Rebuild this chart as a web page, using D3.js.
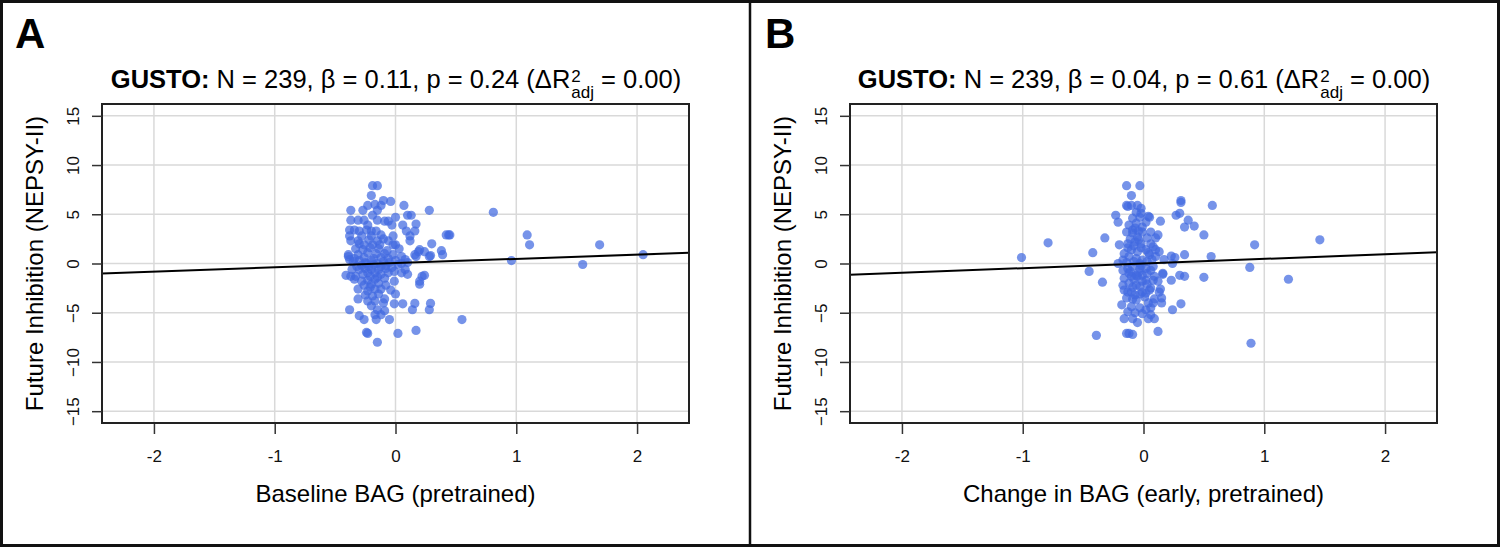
<!DOCTYPE html>
<html>
<head>
<meta charset="utf-8">
<script src="https://cdn.jsdelivr.net/npm/d3@7"></script>
<style>
  body { margin: 0; background: #fff; }
  svg { display: block; font-family: "Liberation Sans", Arial, Helvetica, sans-serif; }
  text { white-space: pre; }
</style>
</head>
<body>
<script>
// axis ticks
var xTicks = [-2, -1, 0, 1, 2];
var yTicks = [-15, -10, -5, 0, 5, 10, 15];

// panel A: baseline BAG vs future inhibition
var pointsA = [
  [-0.19,7.9],[-0.15,7.9],[-0.2,6.9],[-0.1,6.4],[-0.04,6.3],[0.07,5.9],[0.28,5.4],
  [-0.23,5.9],[-0.17,6.0],[-0.12,5.9],[-0.37,5.4],[-0.27,5.4],[-0.15,5.4],[-0.19,4.9],
  [0.0,4.7],[0.1,4.9],[0.13,4.9],[-0.37,4.4],[-0.31,4.4],[-0.26,4.4],[-0.15,4.4],[-0.09,4.3],[-0.06,4.3],
  [-0.23,3.9],[0.06,3.9],[0.17,4.0],[-0.03,3.9],
  [-0.38,3.4],[-0.34,3.4],[-0.3,3.3],[-0.24,3.4],[-0.2,3.3],[-0.16,3.3],[0.09,3.3],[0.16,3.3],
  [-0.02,2.8],[-0.38,2.8],[-0.28,2.8],[-0.2,2.8],[-0.12,2.9],[0.12,2.8],[0.42,2.9],[0.44,2.9],
  [-0.37,2.3],[-0.31,2.3],[-0.15,2.3],[-0.06,2.3],[0.12,2.3],[0.3,2.0],
  [-0.26,1.9],[-0.19,1.9],[-0.13,1.9],[-0.02,1.9],[0.0,1.9],
  [-0.39,0.9],[-0.31,0.9],[-0.23,1.1],[-0.16,1.0],[-0.09,1.0],[-0.02,0.9],[0.05,0.7],[0.16,0.9],
  [0.19,1.2],[0.24,1.2],[0.29,0.8],[0.38,1.3],[0.39,0.9],[0.2,1.4],[0.28,0.7],[0.17,0.7],[-0.39,0.7],[-0.38,0.4],
  [-0.35,0.2],[-0.3,0.3],[-0.25,0.1],[-0.2,0.3],[-0.15,0.0],[-0.1,0.2],[-0.05,0.1],[0.0,0.3],[0.05,0.0],
  [-0.28,-0.2],[-0.22,-0.3],[-0.18,-0.1],[-0.12,-0.3],[-0.08,-0.2],[0.02,-0.1],[0.1,0.1],
  [-0.33,1.5],[-0.27,1.4],[-0.21,1.6],[-0.14,1.5],[-0.07,1.3],[0.03,1.5],[-0.3,2.0],[-0.22,2.4],[-0.1,2.5],
  [-0.34,0.5],[-0.26,0.6],[-0.18,0.5],[-0.12,0.6],[-0.06,0.5],[0.08,0.4],[-0.32,-0.3],[-0.24,0.0],
  [-0.36,-0.6],[-0.41,-1.2],[-0.37,-1.3],[-0.33,-1.3],[-0.27,-1.1],[-0.23,-0.95],[-0.17,-0.95],[-0.12,-1.1],
  [-0.06,-0.95],[-0.01,-0.8],[0.05,-0.95],[0.1,-1.1],[0.24,-1.2],[0.22,-1.3],
  [-0.3,-0.6],[-0.25,-0.5],[-0.2,-0.6],[-0.14,-0.6],[-0.08,-0.5],[-0.03,-0.4],[0.08,-0.6],
  [0.2,-1.8],[0.2,-2.1],[-0.34,-1.6],[-0.28,-1.8],[-0.23,-1.7],[-0.17,-1.6],[-0.01,-1.8],
  [-0.26,-2.2],[-0.2,-2.1],[-0.14,-2.0],[-0.08,-2.2],[-0.21,-1.3],[-0.15,-1.4],[-0.09,-1.5],
  [-0.31,-2.6],[-0.23,-2.8],[-0.17,-2.6],[-0.12,-2.6],[-0.04,-2.7],[0.0,-3.1],
  [-0.25,-3.2],[-0.19,-3.3],[-0.14,-3.1],[-0.21,-2.4],
  [-0.31,-3.6],[-0.23,-3.8],[-0.17,-3.8],[-0.09,-3.6],[-0.1,-4.0],
  [-0.01,-4.1],[0.06,-4.1],[0.16,-4.05],[0.29,-4.05],[0.14,-4.7],[0.28,-4.7],
  [-0.38,-4.7],[-0.2,-4.3],[-0.15,-4.7],[-0.09,-4.8],
  [-0.3,-5.3],[-0.26,-5.7],[-0.16,-5.7],[-0.05,-5.7],[-0.17,-5.2],[-0.12,-5.2],[0.55,-5.7],
  [-0.24,-7.0],[-0.23,-7.1],[0.02,-7.1],[0.17,-6.8],[-0.15,-8.0],
  [0.81,5.2],[0.45,2.9],[1.09,2.9],[1.11,1.9],[0.96,0.3],[1.55,-0.1],[1.69,1.9],[2.05,0.9]
];

// panel B: change in BAG vs future inhibition
var pointsB = [
  [-0.14,7.9],[-0.03,7.9],[-0.1,6.9],[-0.14,5.9],[-0.1,5.9],[-0.05,5.9],[-0.13,5.8],[-0.02,5.6],
  [0.31,6.2],[0.31,6.4],[0.57,5.9],
  [-0.23,4.9],[-0.21,4.2],[0.27,4.9],[0.3,5.1],[0.37,4.4],[0.34,3.7],[0.42,3.8],[0.5,2.9],[0.14,4.3],[0.05,4.7],
  [-0.09,4.6],[-0.03,4.7],[0.04,4.8],[-0.06,5.2],[-0.02,5.1],
  [-0.12,3.9],[-0.06,4.1],[-0.01,3.7],[-0.07,3.6],[0.02,4.2],
  [-0.14,3.2],[-0.09,3.1],[-0.05,2.7],[-0.01,3.2],[0.06,3.2],[0.12,2.9],
  [-0.2,1.9],[-0.13,2.0],[-0.07,2.2],[-0.02,2.0],[0.06,2.0],[0.1,2.6],
  [-0.11,2.5],[-0.04,2.4],[0.03,2.6],[-0.09,3.4],[-0.04,3.3],
  [-0.16,1.0],[-0.1,1.4],[-0.05,1.2],[0.02,1.4],[0.08,1.7],[0.1,1.4],
  [-0.13,1.6],[-0.08,1.8],[-0.02,1.6],[0.04,1.1],
  [-0.17,0.35],[-0.12,0.7],[-0.06,0.5],[-0.01,0.35],[0.05,0.9],[0.1,0.7],[0.13,1.2],
  [-0.14,0.1],[-0.08,0.2],[-0.03,0.0],[0.03,0.2],[0.07,0.4],
  [-0.21,0.0],[-0.17,-0.7],[-0.13,-0.5],[-0.09,-0.3],[-0.03,-0.5],[0.02,-0.5],[0.08,-0.3],
  [-0.16,-1.5],[-0.1,-1.3],[-0.05,-1.3],[0.02,-1.7],[-0.12,-1.0],[-0.06,-1.2],[-0.01,-1.2],
  [0.06,-0.7],[0.09,-1.3],[0.16,-1.0],
  [-0.11,-0.8],[-0.04,-0.9],[0.03,-1.0],[-0.08,-1.6],[-0.02,-0.2],
  [-0.17,-2.2],[-0.12,-2.0],[-0.06,-2.2],[-0.01,-1.8],[0.08,-1.7],[0.12,-1.8],
  [-0.09,-2.4],[-0.03,-2.3],[0.03,-2.1],
  [-0.16,-2.7],[-0.13,-2.9],[-0.1,-2.9],[-0.01,-2.9],[0.06,-2.5],
  [-0.07,-3.2],[-0.03,-3.1],[0.02,-3.0],
  [-0.14,-3.5],[-0.09,-3.6],[-0.06,-3.7],[0.01,-3.4],[0.05,-2.7],
  [0.15,-3.5],[0.15,-4.0],[0.13,-2.9],[0.14,-2.6],[0.09,-3.6],
  [-0.18,-4.2],[-0.1,-4.4],[-0.03,-4.5],[0.02,-4.7],[0.06,-4.5],[0.08,-4.0],[0.04,-4.0],
  [-0.13,-4.9],[-0.07,-5.0],[-0.01,-5.1],
  [-0.05,-6.0],[-0.16,-5.6],[-0.09,-5.6],[0.04,-5.6],[0.09,-5.6],[0.06,-5.2],
  [-0.14,-7.1],[-0.12,-7.1],[-0.09,-7.2],[0.12,-6.9],
  [0.24,-4.7],[0.31,-4.1],
  [0.16,-1.1],[0.23,-1.7],[0.3,-1.2],[0.34,-1.3],
  [0.23,0.76],[0.26,0.6],[0.24,0.0],[0.17,0.4],[0.34,0.9],[0.56,0.7],[0.5,-1.4],
  [-1.01,0.6],[-0.79,2.1],[-0.42,1.1],[-0.45,-0.8],[-0.34,-1.9],[-0.32,2.6],[-0.39,-7.3],
  [0.92,1.9],[1.46,2.4],[0.88,-0.4],[1.2,-1.6],[0.89,-8.1]
];

// fitted lines: [intercept, slope]
var fitA = [0.04, 0.43];
var fitB = [0.0, 0.47];

var panelLetters = ['A', 'B'];
var titleStats = ['N = 239, \u03b2 = 0.11, p = 0.24 (\u0394R', 'N = 239, \u03b2 = 0.04, p = 0.61 (\u0394R'];
var xLabels = ['Baseline BAG (pretrained)', 'Change in BAG (early, pretrained)'];
var yLabel = 'Future Inhibition (NEPSY-II)';

var W = 1500, H = 547;
var svg = d3.select('body').append('svg')
    .attr('width', W)
    .attr('height', H);

svg.append('rect')
    .attr('width', W).attr('height', H)
    .attr('fill', '#fff');

var panels = [
  { pts: pointsA, fit: fitA, off: 0 },
  { pts: pointsB, fit: fitB, off: 748 }
];

panels.forEach(function (p, i) {
  var left = 102 + p.off, right = 689 + p.off, top = 104, bottom = 423;
  var x = d3.scaleLinear().domain([-2.43, 2.43]).range([left, right]);
  var y = d3.scaleLinear().domain([-16.2, 16.2]).range([bottom, top]);
  var g = svg.append('g');

  // panel letter
  g.append('text')
      .attr('x', 15 + p.off + (i ? 2 : 0))
      .attr('y', 48)
      .attr('font-size', 42)
      .attr('font-weight', 'bold')
      .text(panelLetters[i]);

  // grid
  g.selectAll('.gx').data(xTicks).enter().append('line')
      .attr('x1', function (d) { return x(d); })
      .attr('x2', function (d) { return x(d); })
      .attr('y1', top).attr('y2', bottom)
      .attr('stroke', '#d9d9d9').attr('stroke-width', 1.5);
  g.selectAll('.gy').data(yTicks).enter().append('line')
      .attr('y1', function (d) { return y(d); })
      .attr('y2', function (d) { return y(d); })
      .attr('x1', left).attr('x2', right)
      .attr('stroke', '#d9d9d9').attr('stroke-width', 1.5);

  // points
  g.append('g').selectAll('circle').data(p.pts).enter().append('circle')
      .attr('cx', function (d) { return x(d[0]); })
      .attr('cy', function (d) { return y(d[1]); })
      .attr('r', 4.6)
      .attr('fill', '#4169e1')
      .attr('fill-opacity', 0.72);

  // regression line
  var xd = x.domain();
  g.append('line')
      .attr('x1', x(xd[0])).attr('y1', y(p.fit[0] + p.fit[1] * xd[0]))
      .attr('x2', x(xd[1])).attr('y2', y(p.fit[0] + p.fit[1] * xd[1]))
      .attr('stroke', '#000').attr('stroke-width', 2);

  // box
  g.append('rect')
      .attr('x', left).attr('y', top)
      .attr('width', right - left).attr('height', bottom - top)
      .attr('fill', 'none').attr('stroke', '#222').attr('stroke-width', 2);

  // x axis
  var ax = g.append('g')
      .attr('transform', 'translate(0,' + (bottom + 1) + ')')
      .call(d3.axisBottom(x).tickValues(xTicks).tickSize(10).tickPadding(16)
        .tickFormat(function (d) { return d; }));
  ax.select('.domain').remove();
  ax.selectAll('line').attr('stroke', '#333').attr('stroke-width', 1.5);
  ax.selectAll('text').attr('font-size', 17).attr('fill', '#111')
      .attr('font-family', '"Liberation Sans", Arial, sans-serif');

  // y axis, labels turned like R's default
  var ay = g.append('g')
      .attr('transform', 'translate(' + left + ',0)')
      .call(d3.axisLeft(y).tickValues(yTicks).tickSize(10));
  ay.select('.domain').remove();
  ay.selectAll('line').attr('stroke', '#333').attr('stroke-width', 1.5);
  ay.selectAll('text')
      .attr('x', 0).attr('dy', 0)
      .attr('transform', 'translate(-23,0) rotate(-90)')
      .style('text-anchor', 'middle')
      .attr('font-size', 17).attr('fill', '#111')
      .attr('font-family', '"Liberation Sans", Arial, sans-serif');

  // axis titles
  g.append('text')
      .attr('x', (left + right) / 2).attr('y', 502)
      .attr('text-anchor', 'middle')
      .attr('font-size', 24)
      .text(xLabels[i]);
  g.append('text')
      .attr('transform', 'translate(' + (43 + p.off) + ',' + ((top + bottom) / 2) + ') rotate(-90)')
      .attr('text-anchor', 'middle')
      .attr('font-size', 24)
      .text(yLabel);

  // title; the 2 and "adj" sit stacked after R, as in plotmath
  var cx = (left + right) / 2;
  var t = g.append('text')
      .attr('x', cx).attr('y', 88)
      .attr('font-size', 25.5);
  t.append('tspan').attr('font-weight', 'bold').text('GUSTO:');
  t.append('tspan').text(' ' + titleStats[i]);
  var sup = g.append('text').attr('y', 82).attr('font-size', 17).text('2');
  var sub = g.append('text').attr('y', 98).attr('font-size', 17).text('adj');
  var tail = g.append('text').attr('y', 88).attr('font-size', 25.5).text(' = 0.00)');
  var w1 = t.node().getComputedTextLength();
  var w2 = Math.max(sup.node().getComputedTextLength(), sub.node().getComputedTextLength());
  var w3 = tail.node().getComputedTextLength();
  var x0 = cx - (w1 + w2 + w3) / 2;
  t.attr('x', x0);
  sup.attr('x', x0 + w1 + 1);
  sub.attr('x', x0 + w1 + 1);
  tail.attr('x', x0 + w1 + w2 + 1);
});

// outer frame and divider
svg.append('rect')
    .attr('x', 1.5).attr('y', 1.5)
    .attr('width', W - 3).attr('height', H - 3)
    .attr('fill', 'none').attr('stroke', '#111').attr('stroke-width', 3);
svg.append('line')
    .attr('x1', 750).attr('x2', 750)
    .attr('y1', 0).attr('y2', H)
    .attr('stroke', '#111').attr('stroke-width', 2.5);
</script>
</body>
</html>
